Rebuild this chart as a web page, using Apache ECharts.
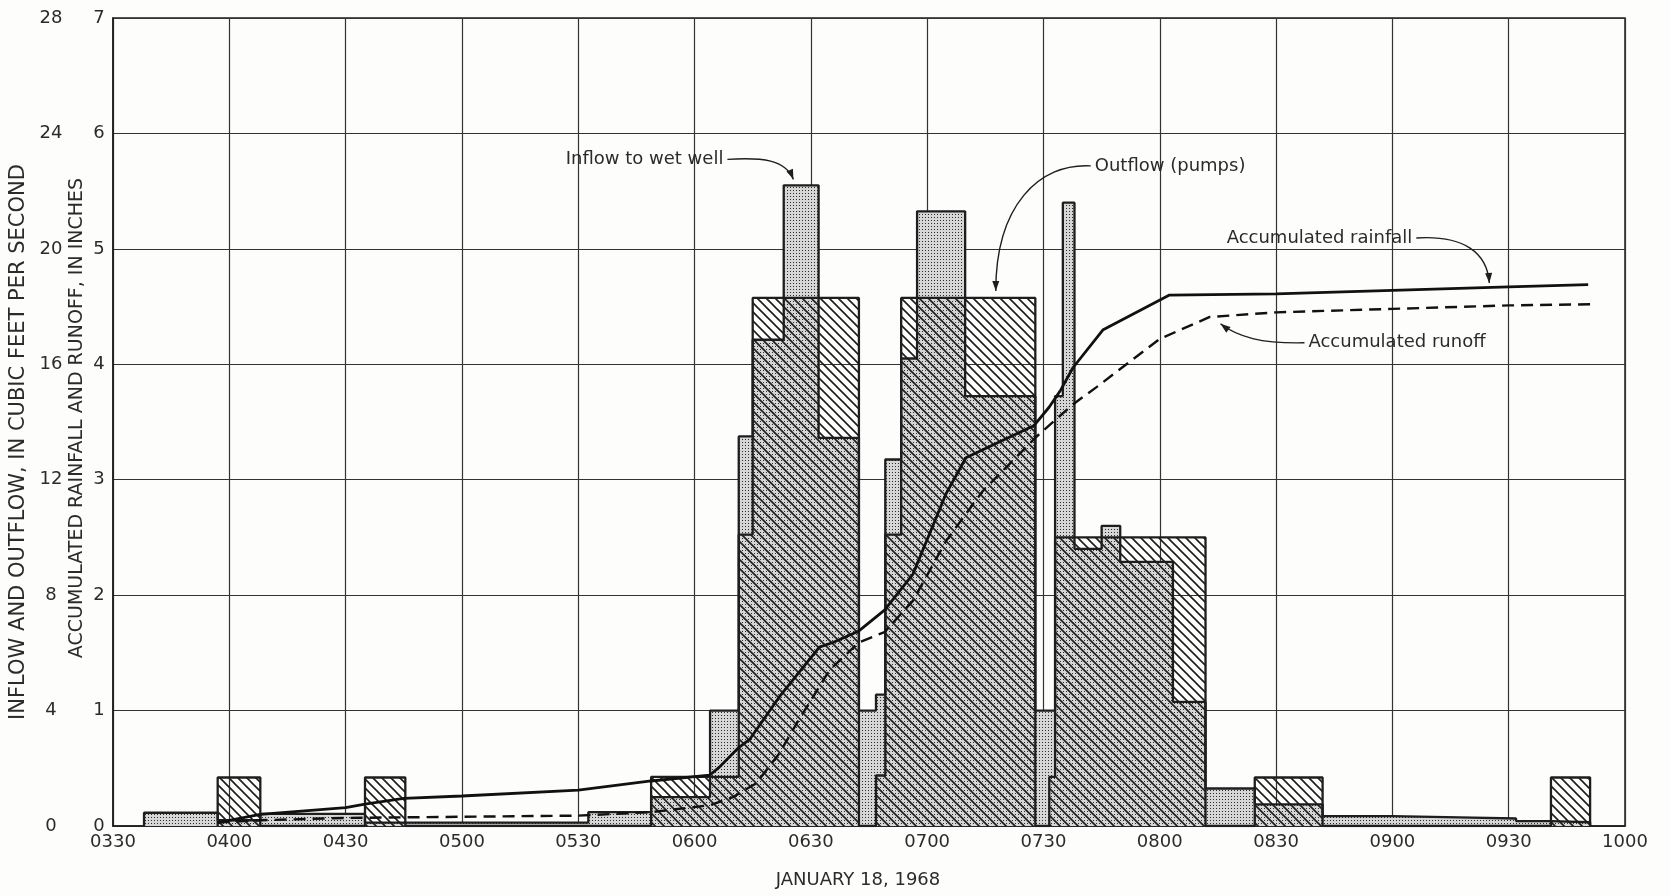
<!DOCTYPE html>
<html>
<head>
<meta charset="utf-8">
<script src="https://cdn.jsdelivr.net/npm/echarts@6/dist/echarts.min.js"></script>
<style>
html,body{margin:0;padding:0;background:#fdfdfc;}
#chart{width:1670px;height:896px;}
</style>
</head>
<body>
<div id="chart"></div>
<script>
// clock readings hhmm (decimal minutes allowed), January 18 1968
// each value holds from its time until the next time
const inflowTimes = [338, 357, 408, 435, 532.6, 548.8, 604, 611.4, 615, 623, 632, 642.4, 646.8, 649.2, 653.3, 657.4, 709.8, 727.9, 733, 735, 738, 745, 749.8, 803.4, 811.8, 824.5, 842, 900, 917.3, 931.9, 940.9, 951]
const inflowCfs   = [0.46, 0.2, 0.42, 0.12, 0.48, 1.0, 4.0, 13.5, 16.85, 22.2, 13.45, 4.0, 4.55, 12.7, 16.2, 21.3, 14.9, 4.0, 14.9, 21.6, 9.6, 10.4, 9.15, 4.3, 1.3, 0.75, 0.34, 0.3, 0.26, 0.17, 0.13, 0]

const outflowTimes = [357, 408, 435, 445.4, 548.8, 611.4, 615, 642.4, 646.8, 649.2, 653.3, 727.9, 731.5, 733, 811.8, 824.5, 842, 940.9, 951]
const outflowCfs   = [1.68, 0, 1.68, 0, 1.7, 10.1, 18.3, 0, 1.75, 10.1, 18.3, 0, 1.7, 10.0, 0, 1.68, 0, 1.68, 0]

const rainTimes  = [357, 408, 430, 435, 445, 500, 530, 548.8, 603.9, 606.4, 611.4, 614.2, 621.9, 632.2, 635.7, 642.4, 649, 656.3, 704.9, 710, 727.6, 731.5, 734.5, 737.6, 745.4, 802.5, 830, 900, 930, 950.5]
const rainInches = [0.03, 0.1, 0.16, 0.19, 0.24, 0.26, 0.31, 0.39, 0.44, 0.51, 0.68, 0.75, 1.12, 1.55, 1.59, 1.69, 1.87, 2.18, 2.88, 3.19, 3.47, 3.63, 3.78, 3.97, 4.3, 4.6, 4.61, 4.64, 4.67, 4.69]

const runoffTimes  = [357, 408, 430, 530, 548.8, 604, 609.9, 615.9, 621.9, 626.2, 634.8, 642.4, 649, 656.3, 704.9, 714.3, 728.1, 737.5, 743.6, 800, 812.9, 830, 900, 930, 951]
const runoffInches = [0.03, 0.05, 0.07, 0.09, 0.12, 0.18, 0.25, 0.37, 0.63, 0.88, 1.35, 1.59, 1.68, 1.95, 2.47, 2.9, 3.37, 3.65, 3.8, 4.22, 4.41, 4.45, 4.48, 4.51, 4.52]

const noteText = ['Inflow to wet well', 'Outflow (pumps)', 'Accumulated rainfall', 'Accumulated runoff']
const noteAt   = [[625.5, 22.2], [717.7, 18.3], [925, 4.67], [815.4, 4.42]]
const noteAxis = [0, 0, 1, 1]

function toMin(hhmm) { return Math.floor(hhmm / 100) * 60 + hhmm % 100 }
function clock(min) {
    const h = Math.floor(min / 60), m = Math.round(min % 60)
    return String(h).padStart(2, '0') + String(m).padStart(2, '0')
}
function stepData(times, vals) {
    const d = [[toMin(times[0]), 0]]
    times.forEach((t, i) => d.push([toMin(t), vals[i]]))
    return d
}

function stipple() {
    const c = document.createElement('canvas')
    c.width = 3; c.height = 3
    const g = c.getContext('2d')
    g.fillStyle = '#d6d6d6'; g.fillRect(0, 0, 3, 3)
    g.fillStyle = '#2a2a2a'; g.fillRect(1, 1, 1, 1)
    return c
}
function hatch() {
    const s = 9
    const c = document.createElement('canvas')
    c.width = s; c.height = s
    const g = c.getContext('2d')
    g.strokeStyle = '#1c1c1c'; g.lineWidth = 1.6
    g.beginPath()
    g.moveTo(-2, -2); g.lineTo(s + 2, s + 2)
    g.moveTo(-2, s - 2); g.lineTo(2, s + 2)
    g.moveTo(s - 2, -2); g.lineTo(s + 2, 2)
    g.stroke()
    return c
}

const ink = '#1e1e1e'
const font = 'DejaVu Sans'

const chart = echarts.init(document.getElementById('chart'))
chart.setOption({
    animation: false,
    backgroundColor: '#fdfdfc',
    grid: {left: 113, right: 45, top: 18, bottom: 70, show: true, borderColor: ink, borderWidth: 1.5, backgroundColor: 'transparent'},
    xAxis: {
        type: 'value', min: 210, max: 600, interval: 30,
        axisLine: {lineStyle: {color: ink, width: 1.5}},
        axisTick: {show: false},
        splitLine: {lineStyle: {color: '#333', width: 1.2}},
        axisLabel: {color: '#2b2b2b', fontFamily: font, fontSize: 18, margin: 7, formatter: v => clock(v)}
    },
    yAxis: [
        {
            type: 'value', min: 0, max: 28, interval: 4, position: 'left',
            axisLine: {show: false}, axisTick: {show: false}, splitLine: {show: false},
            axisLabel: {color: '#2b2b2b', fontFamily: font, fontSize: 18, align: 'center', margin: 62}
        },
        {
            type: 'value', min: 0, max: 7, interval: 1, position: 'left',
            axisLine: {show: true, lineStyle: {color: ink, width: 1.5}}, axisTick: {show: false},
            splitLine: {lineStyle: {color: '#333', width: 1.2}},
            axisLabel: {color: '#2b2b2b', fontFamily: font, fontSize: 18, align: 'center', margin: 14}
        }
    ],
    series: [
        {
            name: 'Inflow to wet well', type: 'line', step: 'end', yAxisIndex: 0, z: 3,
            data: stepData(inflowTimes, inflowCfs), symbol: 'none',
            lineStyle: {color: ink, width: 2.3},
            areaStyle: {color: {image: stipple(), repeat: 'repeat'}, opacity: 1}
        },
        {
            name: 'Outflow (pumps)', type: 'line', step: 'end', yAxisIndex: 0, z: 4,
            data: stepData(outflowTimes, outflowCfs), symbol: 'none',
            lineStyle: {color: ink, width: 2.3},
            areaStyle: {color: {image: hatch(), repeat: 'repeat'}, opacity: 1}
        },
        {
            name: 'Accumulated rainfall', type: 'line', yAxisIndex: 1, z: 5,
            data: rainTimes.map((t, i) => [toMin(t), rainInches[i]]), symbol: 'none',
            lineStyle: {color: '#111', width: 2.8}
        },
        {
            name: 'Accumulated runoff', type: 'line', yAxisIndex: 1, z: 5,
            data: runoffTimes.map((t, i) => [toMin(t), runoffInches[i]]), symbol: 'none',
            lineStyle: {color: '#111', width: 2.4, type: [12, 7]}
        }
    ]
})

// leader layout, relative to the point each label marks
const noteLayout = [
    {tip: [0, -6], text: [-70, -20], align: 'right', c1: [35, -2], c2: [-8, -20]},
    {tip: [0, -7], text: [99, -125], align: 'left', c1: [-52, -3], c2: [0, -85]},
    {tip: [0, -4], text: [-77, -45], align: 'right', c1: [48, -3], c2: [-2, -30]},
    {tip: [1, 8], text: [88, 19], align: 'left', c1: [-43, 1], c2: [17, 13]}
]

const graphics = [
    {type: 'text', x: 19, y: 442, rotation: Math.PI / 2,
        style: {text: 'INFLOW AND OUTFLOW, IN CUBIC FEET PER SECOND', font: '21px "DejaVu Sans"', fill: '#2b2b2b', align: 'center', verticalAlign: 'middle'}},
    {type: 'text', x: 77, y: 418, rotation: Math.PI / 2,
        style: {text: 'ACCUMULATED RAINFALL AND RUNOFF, IN INCHES', font: '19px "DejaVu Sans"', fill: '#2b2b2b', align: 'center', verticalAlign: 'middle'}},
    {type: 'text', x: 858, y: 880,
        style: {text: 'JANUARY 18, 1968', font: '18px "DejaVu Sans"', fill: '#2b2b2b', align: 'center', verticalAlign: 'middle'}}
]

noteText.forEach((txt, i) => {
    const L = noteLayout[i]
    const p = chart.convertToPixel({xAxisIndex: 0, yAxisIndex: noteAxis[i]}, [toMin(noteAt[i][0]), noteAt[i][1]])
    const tip = [p[0] + L.tip[0], p[1] + L.tip[1]]
    const tx = [tip[0] + L.text[0], tip[1] + L.text[1]]
    const start = [tx[0] + (L.align === 'right' ? 4 : -4), tx[1]]
    const c1 = [start[0] + L.c1[0], start[1] + L.c1[1]]
    const c2 = [tip[0] + L.c2[0], tip[1] + L.c2[1]]
    graphics.push({type: 'text', x: tx[0], y: tx[1],
        style: {text: txt, font: '18px "DejaVu Sans"', fill: '#2b2b2b', align: L.align, verticalAlign: 'middle'}})
    graphics.push({type: 'bezierCurve', shape: {x1: start[0], y1: start[1], cpx1: c1[0], cpy1: c1[1], cpx2: c2[0], cpy2: c2[1], x2: tip[0], y2: tip[1]},
        style: {stroke: ink, lineWidth: 1.4, fill: null}})
    const dx = tip[0] - c2[0], dy = tip[1] - c2[1], len = Math.hypot(dx, dy)
    const ux = dx / len, uy = dy / len
    graphics.push({type: 'polygon', shape: {points: [
        tip,
        [tip[0] - ux * 10 - uy * 3.5, tip[1] - uy * 10 + ux * 3.5],
        [tip[0] - ux * 10 + uy * 3.5, tip[1] - uy * 10 - ux * 3.5]
    ]}, style: {fill: ink}})
})

chart.setOption({graphic: graphics})
</script>
</body>
</html>
